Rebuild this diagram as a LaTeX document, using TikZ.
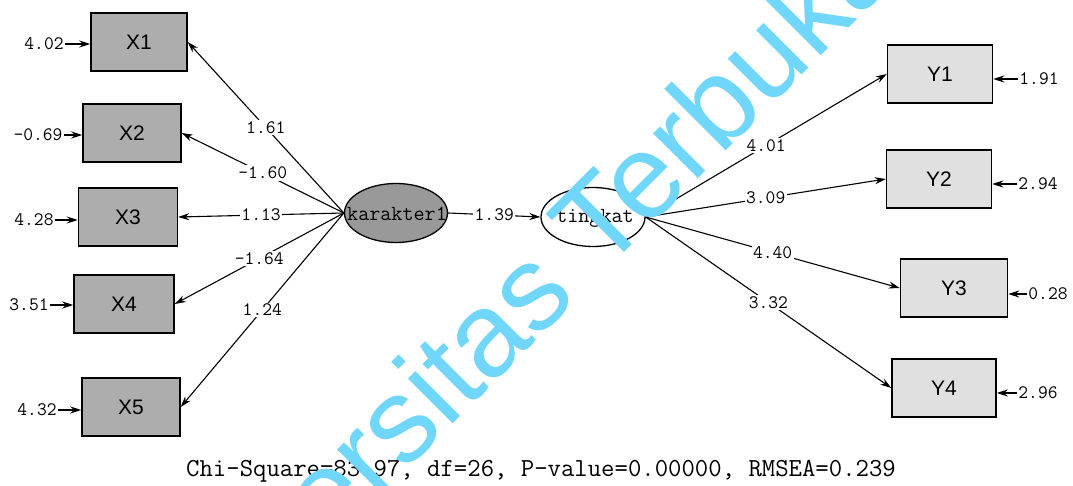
\documentclass[tikz,border=0pt]{standalone}
\usepackage{fontspec}
\setmainfont{Liberation Sans}
\usetikzlibrary{arrows.meta,shapes.geometric}
\definecolor{wm}{RGB}{112,214,250}
\begin{document}
\begin{tikzpicture}[x=1pt,y=-1pt,
  obs/.style={draw, line width=1.5pt, minimum height=58pt, inner sep=0pt, font=\fontsize{21}{21}\selectfont},
  obsL/.style={obs, fill=black!32},
  obsR/.style={obs, fill=black!12},
  lat/.style={draw, ellipse, line width=1.3pt, minimum width=103pt, minimum height=59pt, inner sep=0pt},
  latlbl/.style={font=\ttfamily\fontsize{21.5}{21.5}\selectfont, inner sep=0pt},
  lbl/.style={fill=white, inner sep=1.5pt, font=\ttfamily\fontsize{19}{19}\selectfont},
  err/.style={inner sep=1pt, font=\ttfamily\fontsize{19}{19}\selectfont},
  arr/.style={-{Stealth[length=11pt,width=7pt]}, line width=1.1pt},
]
\useasboundingbox (0,0) rectangle (1073,486);

% observed variables
\node[obsL, minimum width=96pt]  (X1) at (139,42)  {X1};
\node[obsL, minimum width=98pt]  (X2) at (132,133) {X2};
\node[obsL, minimum width=99pt]  (X3) at (128,217) {X3};
\node[obsL, minimum width=100pt] (X4) at (124,304) {X4};
\node[obsL, minimum width=98pt]  (X5) at (131,407) {X5};
\node[obsR, minimum width=105pt] (Y1) at (940,74)  {Y1};
\node[obsR, minimum width=105pt] (Y2) at (939,179) {Y2};
\node[obsR, minimum width=107pt] (Y3) at (954,288) {Y3};
\node[obsR, minimum width=104pt] (Y4) at (944,388) {Y4};

% latent variables
\node[lat, fill=black!40] (K) at (396,213) {};
\node[latlbl] (Kl) at (397,214) {karakter1};
\node[lat, fill=white, minimum width=104pt] (T) at (593,217) {};
\node[latlbl] (Tl) at (595,218) {tingkat};

% error terms
\node[err] (e1) at (44,44)  {4.02};
\node[err] (e2) at (38,135) {-0.69};
\node[err] (e3) at (34,220) {4.28};
\node[err] (e4) at (29,305) {3.51};
\node[err] (e5) at (37,410) {4.32};
\node[err] (f1) at (1039,79)  {1.91};
\node[err] (f2) at (1038,184) {2.94};
\node[err] (f3) at (1048,294) {0.28};
\node[err] (f4) at (1038,393) {2.96};

\foreach \e/\x in {e1/X1,e2/X2,e3/X3,e4/X4,e5/X5}
  \draw[arr] (\e.east) -- (\e.east -| \x.west);
\foreach \e/\y in {f1/Y1,f2/Y2,f3/Y3,f4/Y4}
  \draw[arr] (\e.west) -- (\e.west -| \y.east);

% loadings
\draw[arr] (K.west) -- node[lbl] {1.61}  (X1.east);
\draw[arr] (K.west) -- node[lbl] {-1.60} (X2.east);
\draw[arr] (K.west) -- node[lbl] {1.13}  (X3.east);
\draw[arr] (K.west) -- node[lbl] {-1.64} (X4.east);
\draw[arr] (K.west) -- node[lbl] {1.24}  (X5.east);

\draw[arr] (K.east) -- node[lbl] {1.39} (T.west);

\draw[arr] (T.east) -- node[lbl] {4.01} (Y1.west);
\draw[arr] (T.east) -- node[lbl] {3.09} (Y2.west);
\draw[arr] (T.east) -- node[lbl] {4.40} (Y3.west);
\draw[arr] (T.east) -- node[lbl] {3.32} (Y4.west);

% fit statistics
\node[font=\ttfamily\fontsize{26}{26}\selectfont, inner sep=0pt] (fit) at (541,471)
  {Chi-Square=83.97, df=26, P-value=0.00000, RMSEA=0.239};

% watermark
\begin{scope}
\clip (0,0) rectangle (1073,486);
\node[text=wm, anchor=base east, rotate=45, inner sep=0pt,
      font=\fontsize{120}{120}\selectfont] (wmark) at (905,-28) {Universitas Terbuka};
\end{scope}
\end{tikzpicture}
\end{document}
